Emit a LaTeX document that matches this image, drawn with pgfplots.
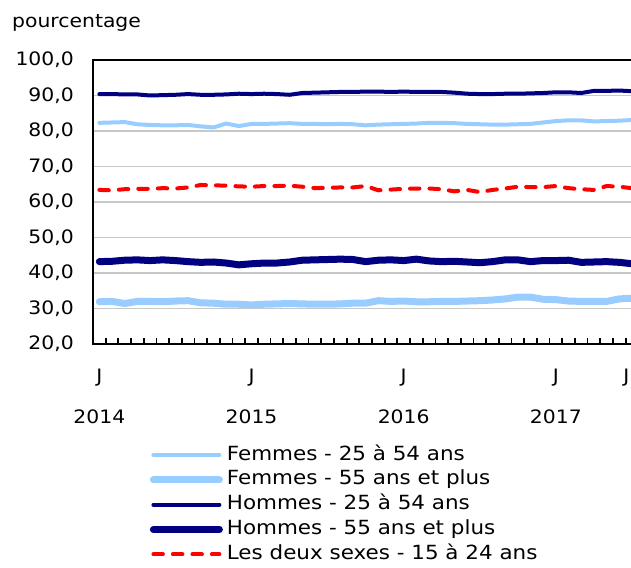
\documentclass[border=0pt]{standalone}
\usepackage{fontspec}
\setmainfont{DejaVu Sans}[FakeStretch=1.1]
\usepackage{pgfplots}
\usepackage{pgfplotstable}
\pgfplotsset{compat=1.18}
\definecolor{lblue}{RGB}{153,204,255}
\definecolor{navy}{RGB}{0,0,128}
\definecolor{gridgray}{RGB}{200,200,200}
\definecolor{rouge}{RGB}{255,0,0}

\pgfplotstableread{
i ff fo hf ho jeunes
0 82.3 31.9 90.4 43.2 63.4
1 82.4 32.0 90.4 43.3 63.3
2 82.5 31.4 90.3 43.6 63.6
3 81.9 32.0 90.3 43.7 63.7
4 81.7 32.0 90.0 43.5 63.7
5 81.6 31.9 90.1 43.7 63.9
6 81.6 32.1 90.2 43.5 63.8
7 81.7 32.2 90.4 43.2 64.1
8 81.3 31.6 90.2 43.0 64.8
9 81.0 31.5 90.2 43.1 64.7
10 82.1 31.2 90.3 42.8 64.6
11 81.4 31.2 90.5 42.3 64.4
12 82.0 31.0 90.4 42.6 64.3
13 82.0 31.2 90.5 42.8 64.5
14 82.1 31.3 90.4 42.8 64.5
15 82.2 31.4 90.2 43.1 64.6
16 82.0 31.3 90.7 43.6 64.3
17 82.0 31.2 90.8 43.7 63.9
18 81.9 31.2 90.9 43.8 64.0
19 82.0 31.3 91.0 43.9 64.1
20 81.9 31.5 91.0 43.8 64.1
21 81.6 31.5 91.1 43.2 64.5
22 81.8 32.2 91.1 43.6 63.3
23 81.9 32.0 91.0 43.7 63.5
24 82.0 32.1 91.1 43.5 63.7
25 82.1 31.9 91.0 43.9 63.8
26 82.3 31.9 91.0 43.4 63.8
27 82.3 32.0 91.0 43.2 63.6
28 82.2 32.0 90.8 43.3 63.0
29 82.0 32.1 90.5 43.1 63.4
30 81.9 32.2 90.4 42.9 62.8
31 81.8 32.4 90.4 43.2 63.4
32 81.8 32.7 90.5 43.7 63.8
33 81.9 33.2 90.5 43.7 64.3
34 82.0 33.2 90.6 43.2 64.2
35 82.4 32.6 90.7 43.5 64.2
36 82.8 32.5 90.9 43.5 64.5
37 83.0 32.1 90.9 43.6 63.9
38 83.0 32.0 90.7 43.0 63.6
39 82.7 32.0 91.3 43.1 63.4
40 82.8 32.0 91.3 43.2 64.5
41 82.9 32.7 91.4 43.0 64.3
42 83.1 32.9 91.2 42.6 63.9
}\datatable

\begin{document}
\begin{tikzpicture}
\useasboundingbox (0,0) rectangle (631pt,567pt);
\clip (0,0) rectangle (631pt,567pt);
\begin{axis}[
  at={(93pt,223pt)}, anchor=south west,
  scale only axis, width=545.3pt, height=284pt,
  xmin=-0.5, xmax=42.5, ymin=20, ymax=100,
  ytick={20,30,...,100},
  ymajorgrids, major grid style={gridgray, line width=1.6pt},
  xtick={0,12,24,36,41.55}, xticklabels={J,J,J,J,J},
  minor xtick={0.5,1.5,...,41.5},
  extra x ticks={0,12,24,36}, extra x tick labels={2014,2015,2016,2017},
  extra x tick style={grid=none, xticklabel style={yshift=-41pt}},
  major tick length=0pt, minor tick length=6pt,
  xtick align=inside, xtick pos=bottom, ytick pos=left,
  xtick style={black, line width=1.8pt},
  ytick style={draw=none},
  axis line style={black, line width=2.2pt},
  tick label style={font=\fontsize{18.5}{22}\selectfont},
  xticklabel style={yshift=-21.7pt},
  yticklabel style={xshift=-15.7pt},
  /pgf/number format/.cd, fixed, fixed zerofill, precision=1, use comma, assume math mode=true,
  /pgfplots/.cd,
  no markers,
  legend cell align=left,
  legend style={at={(axis description cs:0.104,-0.359)}, anchor=north west,
    draw=none, fill=none, font=\fontsize{19.5}{23}\selectfont,
    row sep=6.8pt, column sep=4pt, inner sep=0pt,
    nodes={inner sep=0pt, text height=14pt, text depth=4pt}},
  legend image code/.code={\draw[#1] (3pt,0pt) -- (69pt,0pt);},
]
\addplot[lblue, line width=4pt, line join=round, line cap=round] table[x=i, y=ff] {\datatable};
\addlegendentry{Femmes - 25 à 54 ans}
\addplot[lblue, line width=7pt, line join=round, line cap=round] table[x=i, y=fo] {\datatable};
\addlegendentry{Femmes - 55 ans et plus}
\addplot[navy, line width=4pt, line join=round, line cap=round] table[x=i, y=hf] {\datatable};
\addlegendentry{Hommes - 25 à 54 ans}
\addplot[navy, line width=7pt, line join=round, line cap=round] table[x=i, y=ho] {\datatable};
\addlegendentry{Hommes - 55 ans et plus}
\addplot[rouge, line width=4pt, line join=round, line cap=round, dash pattern=on 9.5pt off 10pt] table[x=i, y=jeunes] {\datatable};
\addlegendentry{Les deux sexes - 15 à 24 ans}
\end{axis}
\node[anchor=base west, inner sep=0pt, font=\fontsize{18.5}{22}\selectfont] at (12pt,539pt) {pourcentage};
\end{tikzpicture}
\end{document}
